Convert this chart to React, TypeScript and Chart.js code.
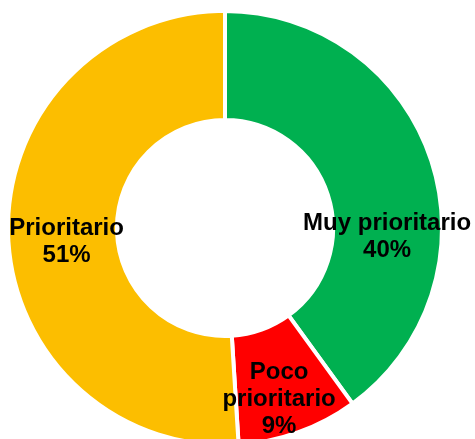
import React, { useEffect, useRef } from "react";
import { Chart, registerables } from "chart.js";

Chart.register(...registerables);

const categories = ["Muy prioritario", "Poco prioritario", "Prioritario"];
const values = [40, 9, 51];
const labelLines = [["Muy prioritario"], ["Poco", "prioritario"], ["Prioritario"]];
const colors = ["#00B050", "#FF0000", "#FCBE00"];

export default function App() {
  const ref = useRef<HTMLCanvasElement | null>(null);

  useEffect(() => {
    const canvas = ref.current;
    if (!canvas) return;
    const total = values.reduce((a, b) => a + b, 0);
    // per-slice text offsets relative to arc center point (dx, first-baseline dy)
    const offsets = [
      [7.5, 52],
      [-1, -2],
      [4, 2],
    ];
    const labelPlugin = {
      id: "sliceLabels",
      afterDatasetsDraw(chart: any) {
        const ctx = chart.ctx as CanvasRenderingContext2D;
        const meta = chart.getDatasetMeta(0);
        ctx.save();
        ctx.font = "bold 24px 'Liberation Sans', Arial, sans-serif";
        ctx.fillStyle = "#000000";
        ctx.textAlign = "center";
        ctx.textBaseline = "alphabetic";
        const lh = 27;
        meta.data.forEach((arc: any, i: number) => {
          const p = arc.getCenterPoint();
          const lines = [...labelLines[i], Math.round((values[i] / total) * 100) + "%"];
          const x = p.x + offsets[i][0];
          let y = p.y + offsets[i][1];
          lines.forEach((t) => {
            ctx.fillText(t, x, y);
            y += lh;
          });
        });
        ctx.restore();
      },
    };
    const chart = new Chart(canvas, {
      type: "doughnut",
      data: {
        labels: categories,
        datasets: [
          {
            data: values,
            backgroundColor: colors,
            borderColor: "#FFFFFF",
            borderWidth: 4,
            hoverOffset: 0,
            offset: 0,
          },
        ],
      },
      options: {
        responsive: false,
        animation: false,
        events: [],
        radius: 217,
        cutout: "49.8%",
        layout: { padding: { left: 0, right: 25, top: 0, bottom: 0 } },
        plugins: {
          legend: { display: false },
          tooltip: { enabled: false },
        },
      },
      plugins: [labelPlugin],
    });
    return () => chart.destroy();
  }, []);

  return (
    <div
      style={{
        position: "fixed",
        left: 0,
        top: 0,
        width: 475,
        height: 439,
        overflow: "hidden",
        background: "#FFFFFF",
      }}
    >
      <canvas ref={ref} width={475} height={456} style={{ display: "block" }} />
    </div>
  );
}
